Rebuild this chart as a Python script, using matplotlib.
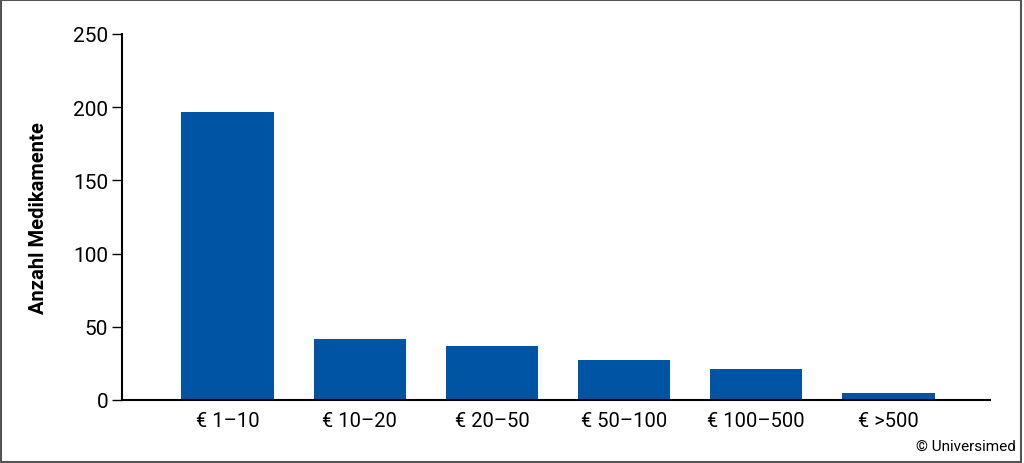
import matplotlib
matplotlib.use("Agg")
import matplotlib.pyplot as plt
from matplotlib.patches import Rectangle

categories = ["€ 1–10", "€ 10–20", "€ 20–50", "€ 50–100", "€ 100–500", "€ >500"]
values = [197, 42, 37, 27, 21, 5]
yticks = [0, 50, 100, 150, 200, 250]

plt.rcParams['font.family'] = ['Roboto', 'DejaVu Sans']

fig = plt.figure(figsize=(10.24, 4.64), dpi=100)
ax = fig.add_axes([122/1024, 1 - 401/464, (990-122)/1024, (401-35)/464])

x = list(range(len(categories)))
ax.bar(x, values, width=0.70, color="#0054A4")
ax.set_xlim(-0.80, 5.77)
ax.set_ylim(0, 250)
ax.set_yticks(yticks)
ax.set_xticks(x)
ax.set_xticklabels(categories, fontsize=14.5)
ax.tick_params(axis='y', labelsize=15, length=7, width=1, direction='out', pad=3)
ax.tick_params(axis='x', length=0, pad=8)
for s in ['top', 'right']:
    ax.spines[s].set_visible(False)
for s in ['left', 'bottom']:
    ax.spines[s].set_linewidth(1.5)
ax.set_ylabel("Anzahl Medikamente", fontsize=14.5, fontweight='bold', labelpad=18)

fig.text(1016/1024, 1 - 447/464, "© Universimed", ha='right', va='center', fontsize=11)
fig.patches.append(Rectangle((0.001, 0.002), 0.996, 0.995, transform=fig.transFigure,
                             fill=False, edgecolor="#555555", linewidth=1.5))

fig.savefig("out.png", dpi=100)
